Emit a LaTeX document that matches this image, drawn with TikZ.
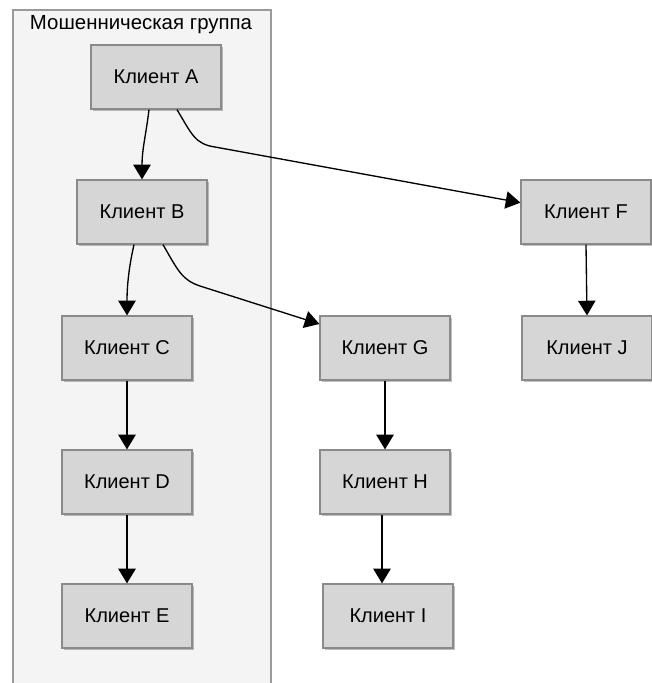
\documentclass[tikz,border=0pt]{standalone}
\usepackage{fontspec}
\setmainfont{Liberation Sans}
\usetikzlibrary{arrows.meta,shadows}
\definecolor{nodefill}{HTML}{D6D6D6}
\definecolor{nodeline}{HTML}{8A8A8A}
\definecolor{clusterfill}{HTML}{F4F4F4}
\definecolor{clusterline}{HTML}{9A9A9A}
\tikzset{
  client/.style={draw=nodeline, fill=nodefill, line width=0.9pt,
    minimum width=97.5pt, minimum height=48pt, inner sep=0pt,
    font=\fontsize{15}{17}\selectfont,
    drop shadow={shadow xshift=1.5pt, shadow yshift=-1.5pt, opacity=0.25, fill=black}},
  link/.style={line width=1pt, -{Triangle[width=13pt,length=11pt]}},
}
\begin{document}
\begin{tikzpicture}[x=0.75pt,y=-0.75pt]
\useasboundingbox (0,0) rectangle (652,683);
\fill[clusterfill] (13,10) rectangle (271,690);
\draw[clusterline, line width=1pt] (13,690) -- (13,10) -- (271,10) -- (271,690);
\node[font=\fontsize{15.3}{17}\selectfont] (title) at (141,25) {Мошенническая группа};
\node[client] (A) at (156,77) {Клиент A};
\node[client] (B) at (142,212) {Клиент B};
\node[client] (C) at (127,348) {Клиент C};
\node[client] (D) at (127,482) {Клиент D};
\node[client] (E) at (127,616) {Клиент E};
\node[client] (F) at (586,212) {Клиент F};
\node[client] (J) at (587,348) {Клиент J};
\node[client] (G) at (385,348) {Клиент G};
\node[client] (H) at (385,482) {Клиент H};
\node[client] (I) at (388,616) {Клиент I};
\coordinate (a1) at (215,147);
\coordinate (b1) at (200,286);
\draw[link] ([xshift=-5.25pt]A.south) .. controls +(-3,25) and +(0,-30) .. (B.north);
\draw[link] ([xshift=15.75pt]A.south) .. controls +(15,25) and +(-20,-3) .. (a1) -- ([yshift=7pt]F.west);
\draw[link] ([xshift=-6pt]B.south) .. controls +(-5,22) and +(0,-30) .. (C.north);
\draw[link] ([xshift=15.75pt]B.south) .. controls +(15,26) and +(-18,-6) .. (b1) -- ([yshift=18pt]G.west);
\draw[link] (C.south) -- (D.north);
\draw[link] (D.south) -- (E.north);
\draw[link] (F.south) -- (J.north);
\draw[link] (G.south) -- (H.north);
\draw[link] ([xshift=-2.25pt]H.south) -- ([xshift=-4.5pt]I.north);
\end{tikzpicture}
\end{document}
